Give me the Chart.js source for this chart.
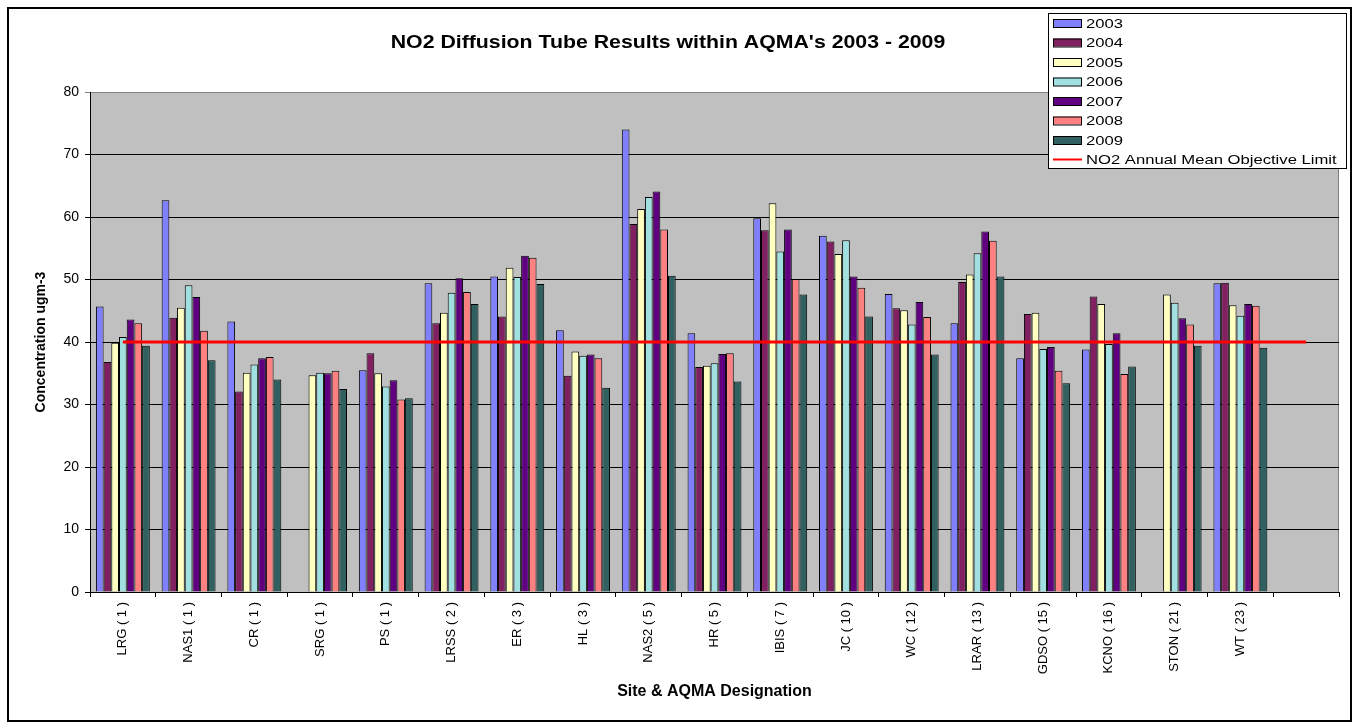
<!DOCTYPE html>
<html>
<head>
<meta charset="utf-8">
<script src="https://cdn.jsdelivr.net/npm/chart.js@4.4.0/dist/chart.umd.min.js"></script>
<style>
  html, body { margin: 0; padding: 0; background: #fff; }
  #wrap { width: 1358px; height: 725px; position: relative; }
</style>
</head>
<body>
<div id="wrap"><canvas id="no2Chart"></canvas></div>
<script>
// sites (last slot is empty, as in the original sheet)
const SITES = [
  "LRG ( 1 )", "NAS1 ( 1 )", "CR ( 1 )", "SRG ( 1 )", "PS ( 1 )", "LRSS ( 2 )",
  "ER ( 3 )", "HL ( 3 )", "NAS2 ( 5 )", "HR ( 5 )", "IBIS ( 7 )", "JC ( 10 )",
  "WC ( 12 )", "LRAR ( 13 )", "GDSO ( 15 )", "KCNO ( 16 )", "STON ( 21 )", "WT ( 23 )", ""
];

const YEARS = ["2003", "2004", "2005", "2006", "2007", "2008", "2009"];
const YEAR_COLOURS = ["#8080FF", "#802060", "#FFFFC0", "#A0E0E0", "#600080", "#FF8080", "#306060"];

const V2003 = [45.7, 62.7, 43.3, null, 35.5, 49.4, 50.5, 41.9, 74.0, 41.4, 59.8, 57.0, 47.7, 43.0, 37.4, 38.8, null, 49.4, null];
const V2004 = [36.8, 43.9, 32.1, null, 38.2, 43.0, 44.1, 34.6, 58.9, 36.0, 57.9, 56.1, 45.4, 49.6, 44.5, 47.3, null, 49.5, null];
const V2005 = [39.9, 45.5, 35.1, 34.7, 35.0, 44.7, 51.9, 38.5, 61.3, 36.2, 62.2, 54.1, 45.1, 50.8, 44.7, 46.1, 47.6, 45.9, null];
const V2006 = [40.8, 49.1, 36.4, 35.1, 32.9, 47.9, 50.4, 37.8, 63.2, 36.6, 54.5, 56.3, 42.8, 54.2, 38.9, 39.7, 46.3, 44.2, null];
const V2007 = [43.6, 47.2, 37.4, 35.0, 33.9, 50.2, 53.8, 38.0, 64.1, 38.1, 58.0, 50.5, 46.4, 57.7, 39.2, 41.4, 43.8, 46.1, null];
const V2008 = [43.0, 41.8, 37.6, 35.4, 30.8, 48.0, 53.5, 37.4, 58.0, 38.2, 50.1, 48.7, 44.0, 56.2, 35.4, 34.9, 42.8, 45.8, null];
const V2009 = [39.4, 37.1, 34.0, 32.5, 31.0, 46.1, 49.3, 32.7, 50.6, 33.7, 47.6, 44.1, 38.0, 50.5, 33.4, 36.1, 39.4, 39.1, null];

const YEAR_VALUES = [V2003, V2004, V2005, V2006, V2007, V2008, V2009];

const LIMIT_LABEL = "NO2 Annual Mean Objective Limit";
const LIMIT_VALUE = 40;

const Y_MIN = 0;
const Y_MAX = 80;
const Y_STEP = 10;

const TITLE = "NO2 Diffusion Tube Results within AQMA's 2003 - 2009";
const FONT = "'Liberation Sans', Arial, sans-serif";

Chart.defaults.font.family = FONT;
Chart.defaults.color = "#000";

// grey plot area, its border and the outer frame
const plotBackground = {
  id: "plotBackground",
  beforeDraw(chart) {
    const { ctx, chartArea: a } = chart;
    ctx.save();
    ctx.fillStyle = "#fff";
    ctx.fillRect(0, 0, chart.width, chart.height);
    ctx.fillStyle = "#C0C0C0";
    ctx.fillRect(a.left, a.top, a.right - a.left, a.bottom - a.top);
    ctx.strokeStyle = "#808080";
    ctx.lineWidth = 1;
    ctx.strokeRect(a.left + 0.5, a.top + 0.5, a.right - a.left - 1, a.bottom - a.top);
    ctx.strokeStyle = "#000";
    ctx.lineWidth = 2;
    ctx.strokeRect(8, 8, 1343, 713);
    ctx.restore();
  }
};

// text drawn a little wider than the font, like the stretched excel export
function wideText(ctx, text, x, y, sx) {
  ctx.save();
  ctx.translate(x, y);
  ctx.scale(sx, 1);
  ctx.fillText(text, 0, 0);
  ctx.restore();
}

// title + boxed legend in the top right (overlaps the plot like the excel chart)
const titleAndLegend = {
  id: "titleAndLegend",
  afterDraw(chart) {
    const { ctx } = chart;
    ctx.save();

    ctx.fillStyle = "#000";
    ctx.font = "bold 19px " + FONT;
    ctx.textAlign = "center";
    ctx.textBaseline = "middle";
    wideText(ctx, TITLE, 668, 43, 1.12);

    const bx = 1048, by = 13, bw = 298, bh = 155;
    ctx.fillStyle = "#fff";
    ctx.fillRect(bx, by, bw, bh);
    ctx.strokeStyle = "#000";
    ctx.lineWidth = 1;
    ctx.strokeRect(bx + 0.5, by + 0.5, bw, bh);

    ctx.font = "13px " + FONT;
    ctx.textAlign = "left";
    chart.data.datasets.forEach((ds, i) => {
      const cy = by + 10 + i * 19.5;
      if (ds.type === "line") {
        ctx.strokeStyle = ds.borderColor;
        ctx.lineWidth = 2;
        ctx.beginPath();
        ctx.moveTo(bx + 5, cy);
        ctx.lineTo(bx + 34, cy);
        ctx.stroke();
      } else {
        ctx.fillStyle = ds.backgroundColor;
        ctx.fillRect(bx + 5, cy - 4, 28, 8);
        ctx.strokeStyle = "#000";
        ctx.lineWidth = 1;
        ctx.strokeRect(bx + 5.5, cy - 3.5, 28, 8);
      }
      ctx.fillStyle = "#000";
      wideText(ctx, ds.label, bx + 38, cy + 1, 1.28);
    });
    ctx.restore();
  }
};

const datasets = YEARS.map((year, i) => ({
  type: "bar",
  label: year,
  data: YEAR_VALUES[i],
  backgroundColor: YEAR_COLOURS[i],
  borderColor: "#000",
  borderWidth: 1,
  borderSkipped: "bottom",
  barPercentage: 1.0,
  categoryPercentage: 0.82,
  order: 1
}));

datasets.push({
  type: "line",
  label: LIMIT_LABEL,
  data: SITES.map(() => LIMIT_VALUE),
  borderColor: "#FF0000",
  borderWidth: 3,
  pointRadius: 0,
  fill: false,
  order: 0
});

new Chart(document.getElementById("no2Chart"), {
  data: { labels: SITES, datasets },
  options: {
    responsive: true,
    maintainAspectRatio: false,
    animation: false,
    layout: { padding: { left: 8, right: 19, top: 92, bottom: 8 } },
    plugins: {
      legend: { display: false },
      title: { display: false },
      tooltip: { enabled: false }
    },
    scales: {
      x: {
        offset: true,
        ticks: {
          color: "#000",
          font: { size: 13 },
          minRotation: 90,
          maxRotation: 90,
          autoSkip: false,
          padding: 5
        },
        grid: {
          offset: true,
          drawOnChartArea: false,
          color: "#000",
          tickLength: 5
        },
        border: { color: "#000", width: 1 },
        title: {
          display: true,
          text: "Site & AQMA Designation",
          color: "#000",
          font: { size: 16, weight: "bold" },
          padding: { top: 0, bottom: 16 }
        },
        afterFit(scale) { scale.height = 125; }
      },
      y: {
        min: Y_MIN,
        max: Y_MAX,
        ticks: {
          stepSize: Y_STEP,
          color: "#000",
          font: { size: 14 },
          padding: 6
        },
        grid: {
          color: (c) => (c.tick && c.tick.value === Y_MAX ? "#808080" : "#000"),
          lineWidth: 1,
          tickLength: 5
        },
        border: { color: "#000", width: 1 },
        title: {
          display: true,
          text: "Concentration ugm-3",
          color: "#000",
          font: { size: 14, weight: "bold" },
          padding: { top: 25, bottom: 0 }
        },
        afterFit(scale) { scale.width = 82; }
      }
    }
  },
  plugins: [plotBackground, titleAndLegend]
});
</script>
</body>
</html>
